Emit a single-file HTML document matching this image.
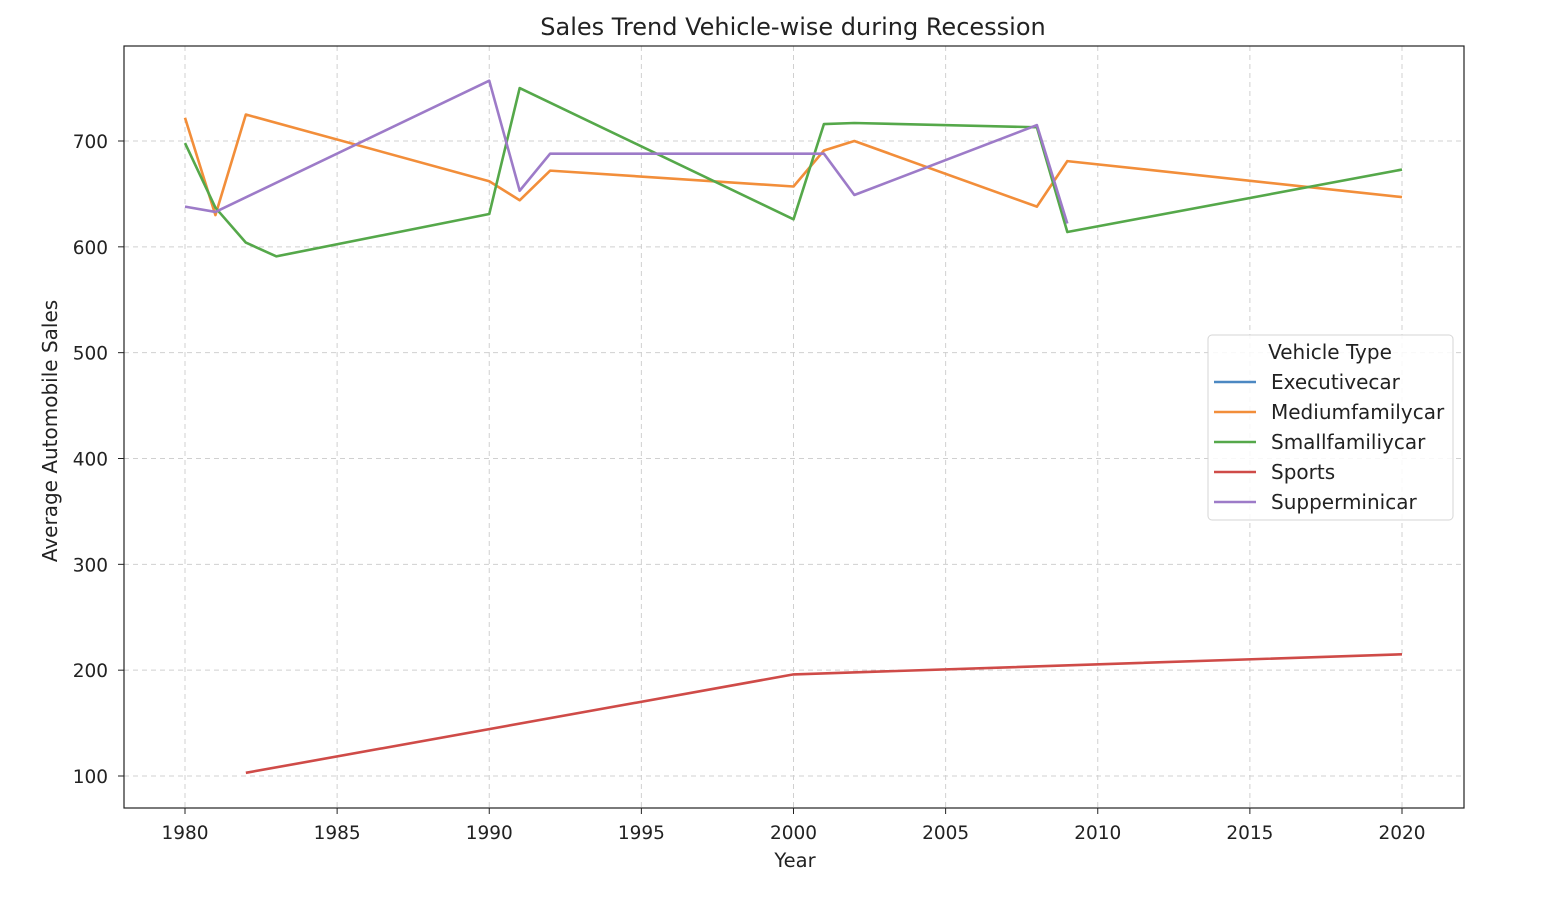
<!DOCTYPE html>
<html><head><meta charset="utf-8"><style>
body{margin:0;background:#fff;width:1566px;height:908px;overflow:hidden}
svg{font-family:"DejaVu Sans","Liberation Sans",sans-serif}
</style></head><body>
<svg id="chart" width="1566" height="908" xmlns="http://www.w3.org/2000/svg">
<rect x="0" y="0" width="1566" height="908" fill="#fff"/>
<g id="grid"></g>
<g id="lines"></g>
<rect x="124" y="46" width="1340" height="762" fill="none" stroke="#222" stroke-width="1.2"/>
<g id="xticks"></g>
<g id="yticks"></g>
<text x="793" y="35" font-size="24" text-anchor="middle" fill="#222">Sales Trend Vehicle-wise during Recession</text>
<text x="795" y="867" font-size="19.5" text-anchor="middle" fill="#222">Year</text>
<text transform="translate(57,431) rotate(-90)" font-size="20" text-anchor="middle" fill="#222">Average Automobile Sales</text>
<g id="legend"></g>
</svg>
<script>
const xTicks=[1980,1985,1990,1995,2000,2005,2010,2015,2020];
const yTicks=[100,200,300,400,500,600,700];
const seriesNames=["Executivecar","Mediumfamilycar","Smallfamiliycar","Sports","Supperminicar"];
const seriesColors=["#4c88c2","#f28e3a","#55a84a","#cf4b48","#9d7bc8"];
const execYears=[];
const execVals=[];
const mediumYears=[1980,1981,1982,1990,1991,1992,2000,2001,2002,2008,2009,2020];
const mediumVals=[722,630,725,662,644,672,657,691,700,638,681,647];
const smallYears=[1980,1981,1982,1983,1990,1991,2000,2001,2002,2008,2009,2020];
const smallVals=[698,637,604,591,631,750,626,716,717,713,614,673];
const sportsYears=[1982,2000,2020];
const sportsVals=[103,196,215];
const superYears=[1980,1981,1990,1991,1992,2000,2001,2002,2008,2009];
const superVals=[638,633,757,653,688,688,688,649,715,622];

const NS="http://www.w3.org/2000/svg";
function X(yr){return 185+(yr-1980)*(1402-185)/40;}
function Y(v){return 141+(700-v)*(776-141)/600;}
function mk(tag,attrs,parent){const e=document.createElementNS(NS,tag);for(const k in attrs)e.setAttribute(k,attrs[k]);parent.appendChild(e);return e;}
const grid=document.getElementById('grid'),xt=document.getElementById('xticks'),yt=document.getElementById('yticks');
xTicks.forEach(t=>{
  const gl=mk('line',{x1:X(t),x2:X(t),y1:46,y2:808,stroke:'#d0d0d0','stroke-dasharray':'5,4','stroke-width':1},grid);
  
  
  mk('line',{x1:X(t),x2:X(t),y1:808,y2:814,stroke:'#222'},xt);
  const tx=mk('text',{x:X(t),y:839,'font-size':18.5,'text-anchor':'middle',fill:'#222'},xt);
  tx.textContent=t;
  
  
});
yTicks.forEach(t=>{
  const gl=mk('line',{x1:124,x2:1464,y1:Y(t),y2:Y(t),stroke:'#d0d0d0','stroke-dasharray':'5,4','stroke-width':1},grid);
  
  
  mk('line',{x1:118,x2:124,y1:Y(t),y2:Y(t),stroke:'#222'},yt);
  const tx=mk('text',{x:108,y:Y(t)+7,'font-size':18.5,'text-anchor':'end',fill:'#222'},yt);
  tx.textContent=t;
  
  
});
const data=[[execYears,execVals],[mediumYears,mediumVals],[smallYears,smallVals],[sportsYears,sportsVals],[superYears,superVals]];
const lines=document.getElementById('lines');
data.forEach((d,i)=>{
  if(!d[0].length)return;
  const pts=d[0].map((yr,j)=>X(yr)+','+Y(d[1][j])).join(' ');
  const p=mk('polyline',{points:pts,fill:'none',stroke:seriesColors[i],'stroke-width':2.6,'stroke-linejoin':'round'},lines);
  
  
});
const lg=document.getElementById('legend');
mk('rect',{x:1208,y:335,width:245,height:185,rx:4,fill:'#fff','fill-opacity':0.85,stroke:'#d6d6d6'},lg);
const lt=mk('text',{x:1330,y:359,'font-size':20,'text-anchor':'middle',fill:'#222'},lg);
lt.textContent='Vehicle Type';


seriesNames.forEach((n,i)=>{
  const y=382+i*30;
  const g=mk('g',{},lg);
  
  
  mk('line',{x1:1214,x2:1256,y1:y,y2:y,stroke:seriesColors[i],'stroke-width':2.6},g);
  const t=mk('text',{x:1271,y:y+7,'font-size':20,fill:'#222'},g);
  t.textContent=n;
});
</script>
</body></html>
